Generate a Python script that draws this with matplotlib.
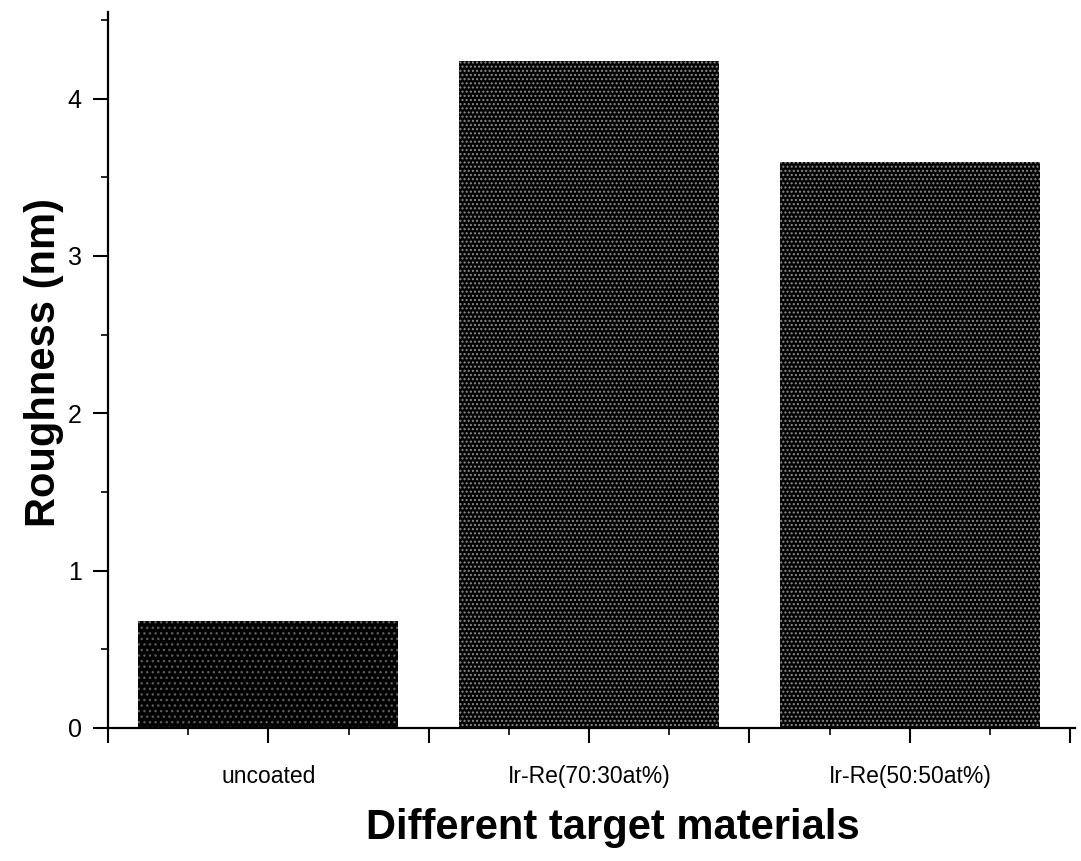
import numpy as np
import matplotlib
matplotlib.use('Agg')
import matplotlib.pyplot as plt
from matplotlib.ticker import MultipleLocator, FixedLocator

# surface roughness for each target material
materials = ['uncoated', 'Ir-Re(70:30at%)', 'Ir-Re(50:50at%)']
roughness = [0.68, 4.24, 3.60]

plt.rcParams['font.family'] = ['Liberation Sans', 'DejaVu Sans']
plt.rcParams['hatch.linewidth'] = 1.0

fig = plt.figure(figsize=(10.81, 8.61), dpi=100)
ax = fig.add_axes([0.0999, 0.1545, 0.8946, 0.8315])

x = np.arange(1, len(materials) + 1)
dots = ['#5a5a5a', '#8c8c8c', '#8c8c8c']
patterns = ['...', '....', '....']
for xi, val, dc, hp in zip(x, roughness, dots, patterns):
    ax.bar(xi, val, width=0.81, color='#000000', edgecolor=dc,
           linewidth=0, hatch=hp)

ax.set_xlim(0.5, 3.515)
ax.set_ylim(0, 4.55)

ax.spines['top'].set_visible(False)
ax.spines['right'].set_visible(False)
ax.spines['left'].set_linewidth(1.6)
ax.spines['bottom'].set_linewidth(1.6)

# category labels at bar centres, ticks every half / quarter category
major = np.arange(0.5, 3.6, 0.5)
ax.xaxis.set_major_locator(FixedLocator(major))
ax.xaxis.set_minor_locator(FixedLocator(np.arange(0.75, 3.5, 0.5)))
ax.set_xticklabels(['' if t not in x else materials[int(t) - 1]
                    for t in major])
ax.yaxis.set_major_locator(MultipleLocator(1))
ax.yaxis.set_minor_locator(MultipleLocator(0.5))

ax.tick_params(axis='both', which='major', direction='out', length=11,
               width=1.5)
ax.tick_params(axis='both', which='minor', direction='out', length=5,
               width=1.2)
ax.tick_params(axis='x', which='major', pad=16, labelsize=16.5)
ax.tick_params(axis='y', which='major', pad=8, labelsize=18)

ax.set_ylabel('Roughness (nm)', fontsize=30, fontweight='bold')
ax.yaxis.set_label_coords(-0.046, 0.511)
ax.set_xlabel('Different target materials', fontsize=30, fontweight='bold')
ax.xaxis.set_label_coords(0.522, -0.112)

fig.savefig('out.png', dpi=100)
